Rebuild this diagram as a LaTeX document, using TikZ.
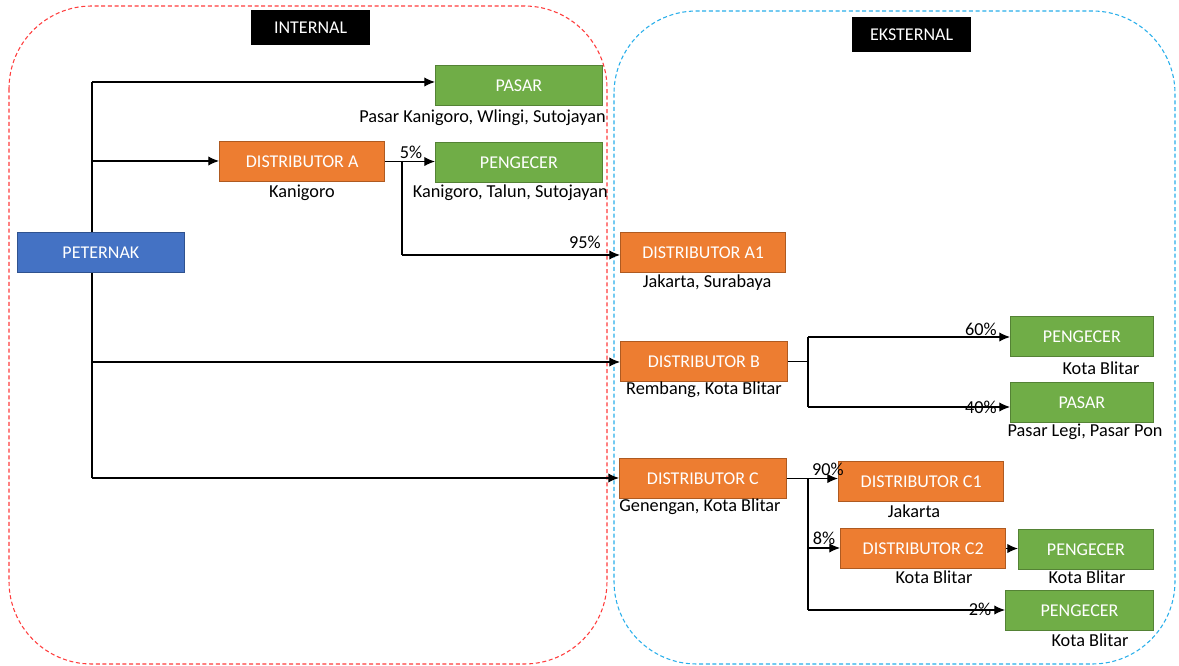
\documentclass[tikz,border=0pt]{standalone}
\usepackage{fontspec}
\setmainfont{Carlito}
\usetikzlibrary{arrows.meta}
\definecolor{cgreen}{RGB}{112,173,71}
\definecolor{cgreenb}{RGB}{84,130,53}
\definecolor{corange}{RGB}{237,125,49}
\definecolor{corangeb}{RGB}{174,90,33}
\definecolor{cblue}{RGB}{68,114,196}
\definecolor{cblueb}{RGB}{47,82,143}
\definecolor{cred}{RGB}{255,60,60}
\definecolor{ccyan}{RGB}{40,175,235}
\tikzset{
  box/.style={draw, line width=0.8pt, minimum height=30pt, inner sep=0pt, text=white, font=\fontsize{13.5}{15}\selectfont, anchor=north west},
  gbox/.style={box, fill=cgreen, draw=cgreenb},
  obox/.style={box, fill=corange, draw=corangeb},
  bbox/.style={box, fill=cblue, draw=cblueb},
  head/.style={fill=black, text=white, minimum height=26pt, inner sep=0pt, font=\fontsize{13.5}{15}\selectfont, anchor=north west},
  lbl/.style={font=\fontsize{13.7}{15}\selectfont, inner sep=0pt},
  arr/.style={-{Latex[length=8pt,width=7pt]}, line width=0.9pt},
  ln/.style={line width=0.9pt},
}
\begin{document}
\begin{tikzpicture}[x=0.75pt,y=-0.75pt]
\fill[white] (0,0) rectangle (1179,666);
\useasboundingbox (0,0) rectangle (1179,666);
% regions
\draw[cred, densely dashed, line width=0.8pt, rounded corners=62pt] (9,6) rectangle (607,664);
\draw[ccyan, densely dashed, line width=0.8pt, rounded corners=62pt] (614,11) rectangle (1175,664);
\node[head, minimum width=89pt] (hint) at (251,10) {INTERNAL};
\node[head, minimum width=89pt] (hext) at (852,17) {EKSTERNAL};
% nodes
\node[bbox, minimum width=125pt] (pet) at (17,232) {PETERNAK};
\node[gbox, minimum width=125pt] (pasar1) at (435,65) {PASAR};
\node[obox, minimum width=124pt] (distA) at (219,141) {DISTRIBUTOR A};
\node[gbox, minimum width=125pt] (peng1) at (435,142) {PENGECER};
\node[obox, minimum width=124pt] (distA1) at (620,232) {DISTRIBUTOR A1};
\node[obox, minimum width=125pt] (distB) at (620,341) {DISTRIBUTOR B};
\node[gbox, minimum width=107pt] (pengB) at (1010,316) {PENGECER};
\node[gbox, minimum width=107pt] (pasarB) at (1010,382) {PASAR};
\node[obox, minimum width=125pt] (distC) at (619,458) {DISTRIBUTOR C};
\node[obox, minimum width=124pt] (distC1) at (838,461) {DISTRIBUTOR C1};
\node[obox, minimum width=124pt] (distC2) at (840,528) {DISTRIBUTOR C2};
\node[gbox, minimum width=101pt] (pengC2) at (1018,529) {PENGECER};
\node[gbox, minimum width=111pt] (pengC) at (1005,590) {PENGECER};
% labels
\node[lbl, anchor=east] (l1) at (606,118) {Pasar Kanigoro, Wlingi, Sutojayan};
\node[lbl] (l2) at (302,193) {Kanigoro};
\node[lbl, anchor=east] (l3) at (608,193) {Kanigoro, Talun, Sutojayan};
\node[lbl] (l4) at (707,283) {Jakarta, Surabaya};
\node[lbl] (l5) at (704,390) {Rembang, Kota Blitar};
\node[lbl] (l6) at (1101,368) {Kota Blitar};
\node[lbl] (l7) at (1085,432) {Pasar Legi, Pasar Pon};
\node[lbl] (l8) at (700,507) {Genengan, Kota Blitar};
\node[lbl] (l9) at (914,511) {Jakarta};
\node[lbl] (l10) at (934,577) {Kota Blitar};
\node[lbl] (l11) at (1087,577) {Kota Blitar};
\node[lbl] (l12) at (1090,640) {Kota Blitar};
% connectors from PETERNAK
\coordinate (jt) at (92,82);
\coordinate (jb) at (92,478);
\draw[ln] (pet.north -| jt) -- (jt);
\draw[arr] (jt) -- (jt -| pasar1.west);
\draw[arr] (92,161) coordinate (ja) -- (ja -| distA.west);
\draw[ln] (pet.south -| jb) -- (jb);
\draw[arr] (92,362) coordinate (jB) -- (jB -| distB.west);
\draw[arr] (jb) -- (jb -| distC.west);
% distributor A
\draw[arr] (distA.east) -- (distA.east -| peng1.west);
\node[lbl] (p5) at (411,152) {5\%};
\coordinate (ja1) at (402,161);
\draw[ln] (ja1) -- (402,255) coordinate (ja2);
\draw[arr] (ja2) -- (ja2 -| distA1.west);
\node[lbl] (p95) at (585,242) {95\%};
% distributor B
\coordinate (jb2) at (808,337);
\coordinate (jb3) at (808,407);
\draw[ln] (distB.east) -- (distB.east -| jb2);
\draw[ln] (jb2) -- (jb3);
\draw[arr] (jb2) -- (jb2 -| pengB.west);
\draw[arr] (jb3) -- (jb3 -| pasarB.west);
\node[lbl] (p60) at (981,329) {60\%};
\node[lbl] (p40) at (981,407) {40\%};
% distributor C
\coordinate (jc3) at (808,610);
\draw[arr] (distC.east) -- (distC.east -| distC1.west);
\node[lbl] (p90) at (828,469) {90\%};
\draw[ln] (distC.east -| jc3) -- (jc3);
\draw[arr] (808,548) coordinate (jc2) -- (jc2 -| distC2.west);
\draw[arr] (jc3) -- (jc3 -| pengC.west);
\node[lbl] (p8) at (824,538) {8\%};
\node[lbl] (p2) at (980,609) {2\%};
\draw[arr] (distC2.east) -- (distC2.east -| pengC2.west);
\end{tikzpicture}
\end{document}
